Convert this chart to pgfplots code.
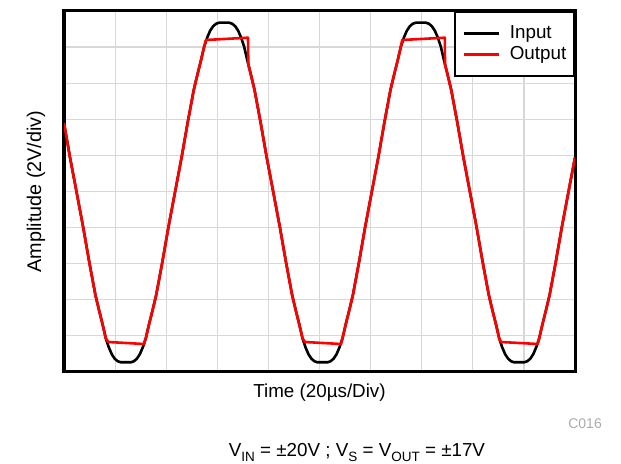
\documentclass[border=0pt]{standalone}
\usepackage{fontspec}
\setmainfont{Liberation Sans}
\usepackage{pgfplots}
\pgfplotsset{compat=1.18}
\definecolor{gridgray}{RGB}{216,216,216}
\definecolor{cgray}{RGB}{170,170,170}
\definecolor{outred}{RGB}{255,0,0}
\newcommand{\lab}{\fontsize{18.8bp}{22bp}\selectfont}
\newcommand{\sub}[1]{\raisebox{-0.28em}{\fontsize{13.5bp}{14bp}\selectfont #1}}
\begin{document}
\begin{tikzpicture}
\path[use as bounding box] (0,0) rectangle (621bp,464bp);
\begin{axis}[
  at={(64bp,92bp)}, anchor=south west,
  scale only axis, width=511bp, height=361bp,
  xmin=0, xmax=511, ymin=0, ymax=361,
  xtick={0,51.1,102.2,153.3,204.4,255.5,306.6,357.7,408.8,459.9,511},
  ytick={0,36.1,72.2,108.3,144.4,180.5,216.6,252.7,288.8,324.9,361},
  xticklabels={}, yticklabels={},
  major tick length=0pt,
  grid=major,
  major grid style={gridgray, line width=1.2bp},
  axis line style={line width=3bp, black},
  xlabel={Time (20µs/Div)},
  ylabel={Amplitude (2V/div)},
  label style={inner sep=0pt},
  xlabel style={font=\lab, at={(axis description cs:0.5,-0.0720)}, anchor=base},
  ylabel style={font=\fontsize{19.8bp}{22bp}\selectfont, at={(axis description cs:-0.0450,0.5)}, anchor=base, rotate=0},
  legend cell align=left,
  legend image code/.code={\draw[#1, line width=2.4bp] (0bp,0bp) -- (35bp,0bp);},
  legend style={at={(axis description cs:1,1)}, anchor=north east,
    draw=black, line width=2.4bp, fill=white, font=\lab,
    inner xsep=7.5bp, inner ysep=12.5bp, row sep=3.6bp,
    nodes={inner sep=0pt, text height=13.5bp, text depth=4bp},
    /tikz/every odd column/.append style={column sep=10bp}},
]
\addplot[black, line width=2.6bp, line join=round] coordinates {
(0,249.0) (6.05,214.3) (12.65,179.5) (19.2,144.7) (25.3,109.7) (31.4,77.0)
(35.3,60.7) (38.8,46.7) (41.8,33.7) (44.8,24.7) (47.8,17.7) (50.8,13.2)
(53.8,10.7) (56.8,9.7) (66.8,9.7) (69.8,10.7) (72.8,13.2) (75.8,17.7)
(78.8,24.7) (81.8,33.7) (84.8,46.7) (88.3,60.7) (92.2,77.0) (98.3,109.7)
(104.4,144.7) (110.95,179.5) (117.55,214.3) (123.65,249.3) (129.75,282.0)
(133.65,298.3) (137.15,312.3) (140.15,325.3) (143.15,334.3) (146.15,341.3)
(149.15,345.8) (152.15,348.3) (155.15,349.3) (165.15,349.3) (168.15,348.3)
(171.15,345.8) (174.15,341.3) (177.15,334.3) (180.15,325.3) (183.15,312.3)
(186.65,298.3) (190.55,282.0) (196.65,249.3) (202.75,214.3) (209.35,179.5)
(215.9,144.7) (222.0,109.7) (228.1,77.0) (232.0,60.7) (235.5,46.7)
(238.5,33.7) (241.5,24.7) (244.5,17.7) (247.5,13.2) (250.5,10.7) (253.5,9.7)
(263.5,9.7) (266.5,10.7) (269.5,13.2) (272.5,17.7) (275.5,24.7) (278.5,33.7)
(281.5,46.7) (285.0,60.7) (288.9,77.0) (295.0,109.7) (301.1,144.7)
(307.65,179.5) (314.25,214.3) (320.35,249.3) (326.45,282.0) (330.35,298.3)
(333.85,312.3) (336.85,325.3) (339.85,334.3) (342.85,341.3) (345.85,345.8)
(348.85,348.3) (351.85,349.3) (361.85,349.3) (364.85,348.3) (367.85,345.8)
(370.85,341.3) (373.85,334.3) (376.85,325.3) (379.85,312.3) (383.35,298.3)
(387.25,282.0) (393.35,249.3) (399.45,214.3) (406.05,179.5) (412.6,144.7)
(418.7,109.7) (424.8,77.0) (428.7,60.7) (432.2,46.7) (435.2,33.7)
(438.2,24.7) (441.2,17.7) (444.2,13.2) (447.2,10.7) (450.2,9.7) (460.2,9.7)
(463.2,10.7) (466.2,13.2) (469.2,17.7) (472.2,24.7) (475.2,33.7) (478.2,46.7)
(481.7,60.7) (485.6,77.0) (491.7,109.7) (497.8,144.7) (504.35,179.5) (511,214.5)
};
\addlegendentry{Input}
\addplot[outred, line width=2.6bp, line join=round] coordinates {
(0,249.0) (6.05,214.3) (12.65,179.5) (19.2,144.7) (25.3,109.7) (31.4,77.0)
(35.3,60.7) (38.8,46.7) (41.8,33.7) (44.3,30.0) (80.0,28.0) (81.8,33.7)
(84.8,46.7) (88.3,60.7) (92.2,77.0) (98.3,109.7) (104.4,144.7) (110.95,179.5)
(117.55,214.3) (123.65,249.3) (129.75,282.0) (133.65,298.3) (137.15,312.3)
(140.15,325.3) (141.9,332.0) (184.0,334.3) (184.3,307.5) (186.65,298.3)
(190.55,282.0) (196.65,249.3) (202.75,214.3) (209.35,179.5) (215.9,144.7)
(222.0,109.7) (228.1,77.0) (232.0,60.7) (235.5,46.7) (238.5,33.7) (241.0,30.0)
(277.0,28.0) (278.5,33.7) (281.5,46.7) (285.0,60.7) (288.9,77.0) (295.0,109.7)
(301.1,144.7) (307.65,179.5) (314.25,214.3) (320.35,249.3) (326.45,282.0)
(330.35,298.3) (333.85,312.3) (336.85,325.3) (338.2,332.0) (380.8,334.3)
(381.0,307.5) (383.35,298.3) (387.25,282.0) (393.35,249.3) (399.45,214.3)
(406.05,179.5) (412.6,144.7) (418.7,109.7) (424.8,77.0) (428.7,60.7)
(432.2,46.7) (435.2,33.7) (437.0,30.0) (473.7,28.0) (475.2,33.7) (478.2,46.7)
(481.7,60.7) (485.6,77.0) (491.7,109.7) (497.8,144.7) (504.35,179.5) (511,214.5)
};
\addlegendentry{Output}
\end{axis}
\node[anchor=base east, inner sep=0pt, text=cgray, font=\fontsize{14bp}{16bp}\selectfont] at (602bp,36bp) {C016};
\node[anchor=base, inner sep=0pt, font=\lab] at (357bp,7.3bp) {V\sub{IN} = ±20V ; V\sub{S} = V\sub{OUT} = ±17V};
\end{tikzpicture}
\end{document}
